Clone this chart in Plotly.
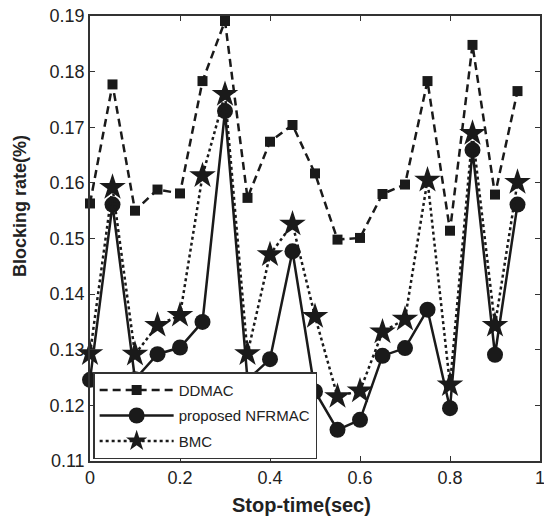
import plotly.graph_objects as go

stop_time = [0, 0.05, 0.1, 0.15, 0.2, 0.25, 0.3, 0.35, 0.4, 0.45,
             0.5, 0.55, 0.6, 0.65, 0.7, 0.75, 0.8, 0.85, 0.9, 0.95]
ddmac = [0.1563, 0.1777, 0.1550, 0.1588, 0.1581, 0.1783, 0.1891, 0.1573, 0.1674, 0.1704,
         0.1617, 0.1498, 0.1501, 0.1580, 0.1597, 0.1783, 0.1514, 0.1848, 0.1579, 0.1765]
nfrmac = [0.1246, 0.1561, 0.1247, 0.1292, 0.1304, 0.1350, 0.1729, 0.1246, 0.1283, 0.1477,
          0.1225, 0.1156, 0.1174, 0.1289, 0.1303, 0.1372, 0.1195, 0.1659, 0.1291, 0.1561]
bmc = [0.1293, 0.1592, 0.1292, 0.1344, 0.1362, 0.1613, 0.1759, 0.1293, 0.1471, 0.1526,
       0.1360, 0.1216, 0.1226, 0.1332, 0.1355, 0.1605, 0.1237, 0.1689, 0.1344, 0.1601]
y_ticks = [0.11, 0.12, 0.13, 0.14, 0.15, 0.16, 0.17, 0.18, 0.19]
x_ticks = [0, 0.2, 0.4, 0.6, 0.8, 1]
x_tick_text = ["0", "0.2", "0.4", "0.6", "0.8", "1"]

col = "#1a1a1a"
font_family = "Liberation Sans, Arial"
fig = go.Figure()
fig.add_trace(go.Scatter(x=stop_time, y=ddmac, name="DDMAC", mode="lines+markers",
                         legendgroup="a", cliponaxis=False,
                         line=dict(color=col, width=2.5, dash="8px,5px"),
                         marker=dict(symbol="square", size=10, color=col)))
fig.add_trace(go.Scatter(x=stop_time, y=nfrmac, name="proposed NFRMAC", mode="lines+markers",
                         legendgroup="b", cliponaxis=False,
                         line=dict(color=col, width=2.5),
                         marker=dict(symbol="circle", size=16, color=col)))
fig.add_trace(go.Scatter(x=stop_time, y=bmc, name="BMC", mode="lines+markers",
                         legendgroup="c", cliponaxis=False,
                         line=dict(color=col, width=2.5, dash="3px,3px"),
                         marker=dict(symbol="star", size=20, color=col)))

axis_common = dict(showgrid=False, zeroline=False, showline=True, linecolor="#333",
                   linewidth=1.5, mirror="ticks", ticks="inside", ticklen=5,
                   tickcolor="#333", automargin=False, ticklabeloverflow="allow",
                   tickfont=dict(family=font_family, size=18, color="#222"))
fig.update_xaxes(range=[0, 1], tickvals=x_ticks, ticktext=x_tick_text, **axis_common)
fig.update_yaxes(range=[0.11, 0.19], tickvals=y_ticks, tickformat=".2f", **axis_common)

fig.add_annotation(text="<b>Stop-time(sec)</b>", xref="paper", yref="paper",
                   x=0.469, y=0, yshift=-44, xanchor="center", yanchor="middle",
                   showarrow=False, font=dict(family=font_family, size=20, color="#222"))
fig.add_annotation(text="<b>Blocking rate(%)</b>", xref="paper", yref="paper",
                   x=0, xshift=-70, y=0.573, xanchor="center", yanchor="middle",
                   textangle=-90, showarrow=False,
                   font=dict(family=font_family, size=18, color="#222"))

fig.update_layout(
    width=544, height=519,
    margin=dict(l=90, r=4, t=16, b=58),
    paper_bgcolor="white", plot_bgcolor="white",
    showlegend=True,
    legend=dict(x=0.007, y=0.004, xanchor="left", yanchor="bottom",
                bgcolor="white", bordercolor="#333", borderwidth=1.5,
                font=dict(family=font_family, size=15, color="#222"),
                itemwidth=74, tracegroupgap=3),
)
fig.write_html("out.html", config={"displayModeBar": False},
               post_script="document.body.style.margin='0';document.body.style.overflow='hidden';")
